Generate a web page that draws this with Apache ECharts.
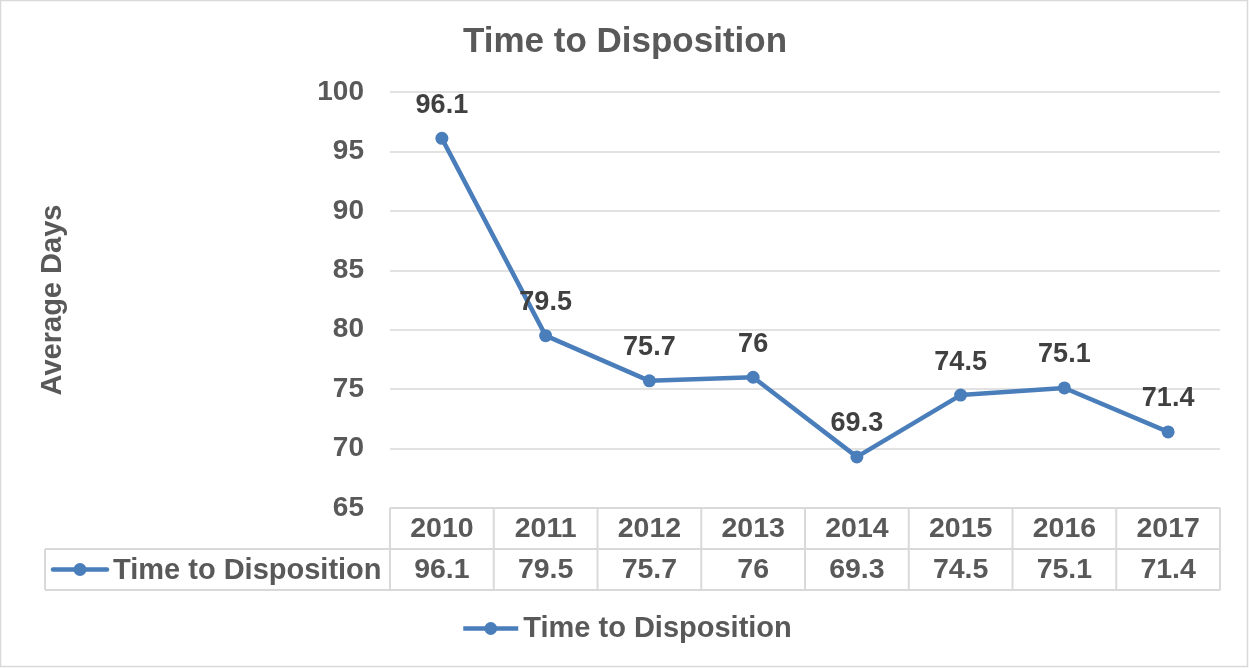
<!DOCTYPE html>
<html>
<head>
<meta charset="utf-8">
<script src="https://cdn.jsdelivr.net/npm/echarts@6/dist/echarts.min.js"></script>
<style>
html,body{margin:0;padding:0;background:#fff;}
#main{width:1249px;height:668px;}
</style>
</head>
<body>
<div id="main"></div>
<script>
const titleText = 'Time to Disposition';
const yAxisName = 'Average Days';
const seriesName = 'Time to Disposition';
const categories = ['2010','2011','2012','2013','2014','2015','2016','2017'];
const values = [96.1, 79.5, 75.7, 76, 69.3, 74.5, 75.1, 71.4];
const yMin = 65, yMax = 100, yStep = 5;

const FONT = '"Liberation Sans", Arial, sans-serif';
const TEXT = '#595959';
const LABEL = '#404040';
const BORDER = '#d9d9d9';
const BLUE = '#4a7ebb';

const chart = echarts.init(document.getElementById('main'), null, {renderer:'canvas'});
const option = {
  animation: false,
  backgroundColor: '#fff',
  title: {
    text: titleText, left: 620, textAlign: 'center', top: 20,
    textStyle: {fontFamily: FONT, fontSize: 35, fontWeight: 'bold', color: TEXT}
  },
  legend: {
    data: [{name: seriesName, itemStyle: {color: BLUE}, lineStyle: {width: 4.5, color: BLUE}}],
    left: 461, top: 614, padding: 0,
    itemWidth: 55, itemHeight: 16, itemGap: 5,
    textStyle: {fontFamily: FONT, fontSize: 29, fontWeight: 'bold', color: TEXT}
  },
  grid: {left: 390, right: 29, top: 92, bottom: 160},
  xAxis: {
    type: 'category', data: categories, boundaryGap: true,
    axisLine: {show: false}, axisTick: {show: false}, axisLabel: {show: false},
    splitLine: {show: false}
  },
  yAxis: {
    type: 'value', min: yMin, max: yMax, interval: yStep,
    name: yAxisName, nameLocation: 'middle', nameRotate: 90, nameGap: 323,
    nameTextStyle: {fontFamily: FONT, fontSize: 29, fontWeight: 'bold', color: TEXT},
    axisLine: {show: false}, axisTick: {show: false},
    axisLabel: {fontFamily: FONT, fontSize: 28, fontWeight: 'bold', color: TEXT, margin: 26},
    splitLine: {lineStyle: {color: BORDER, width: 1.5}}
  },
  series: [{
    name: seriesName, type: 'line', data: values,
    symbol: 'circle', symbolSize: 13, showSymbol: true,
    itemStyle: {color: BLUE},
    lineStyle: {color: BLUE, width: 4.5},
    label: {show: true, position: 'top', distance: 13,
      fontFamily: FONT, fontSize: 27, fontWeight: 'bold', color: LABEL}
  }]
};
chart.setOption(option);

// Data table under the plot, built from the same arrays and positioned via the axes
function buildTable() {
  const c0 = chart.convertToPixel({xAxisIndex: 0}, categories[0]);
  const c1 = chart.convertToPixel({xAxisIndex: 0}, categories[1]);
  const band = c1 - c0;
  const xStart = c0 - band / 2;
  const xEnd = xStart + band * categories.length;
  const top = chart.convertToPixel({yAxisIndex: 0}, yMin);
  const rowH = 41;
  const keyLeft = 45;
  const els = [];
  const ls = {stroke: BORDER, lineWidth: 2};
  els.push({type:'line', shape:{x1:xStart, y1:top, x2:xEnd, y2:top}, style:ls});
  els.push({type:'line', shape:{x1:keyLeft, y1:top+rowH, x2:xEnd, y2:top+rowH}, style:ls});
  els.push({type:'line', shape:{x1:keyLeft, y1:top+2*rowH, x2:xEnd, y2:top+2*rowH}, style:ls});
  els.push({type:'line', shape:{x1:keyLeft, y1:top+rowH, x2:keyLeft, y2:top+2*rowH}, style:ls});
  for (let i = 0; i <= categories.length; i++) {
    const x = xStart + i * band;
    els.push({type:'line', shape:{x1:x, y1:top, x2:x, y2:top+2*rowH}, style:ls});
  }
  const ts = {fontFamily: FONT, fontSize: 28.5, fontWeight: 'bold', fill: TEXT, textAlign:'center', textVerticalAlign:'middle'};
  categories.forEach((c, i) => {
    const cx = chart.convertToPixel({xAxisIndex: 0}, c);
    els.push({type:'text', style: Object.assign({}, ts, {x: cx, y: top + rowH/2 + 1, text: c})});
    els.push({type:'text', style: Object.assign({}, ts, {x: cx, y: top + rowH*1.5 + 1, text: String(values[i])})});
  });
  const ky = top + rowH * 1.5;
  els.push({type:'line', shape:{x1:53, y1:ky, x2:107, y2:ky}, style:{stroke: BLUE, lineWidth: 4.5, lineCap:'round'}});
  els.push({type:'circle', shape:{cx:80, cy:ky, r:6.5}, style:{fill: BLUE}});
  els.push({type:'text', style: Object.assign({}, ts, {x: 113, y: ky + 1, text: seriesName, textAlign:'left', fontSize: 29})});
  els.push({type:'rect', shape:{x:0.5, y:0.5, width:1247, height:666}, style:{fill:'none', stroke: BORDER, lineWidth: 1.5}});
  chart.setOption({graphic: {elements: els}});
}
buildTable();
</script>
</body>
</html>
